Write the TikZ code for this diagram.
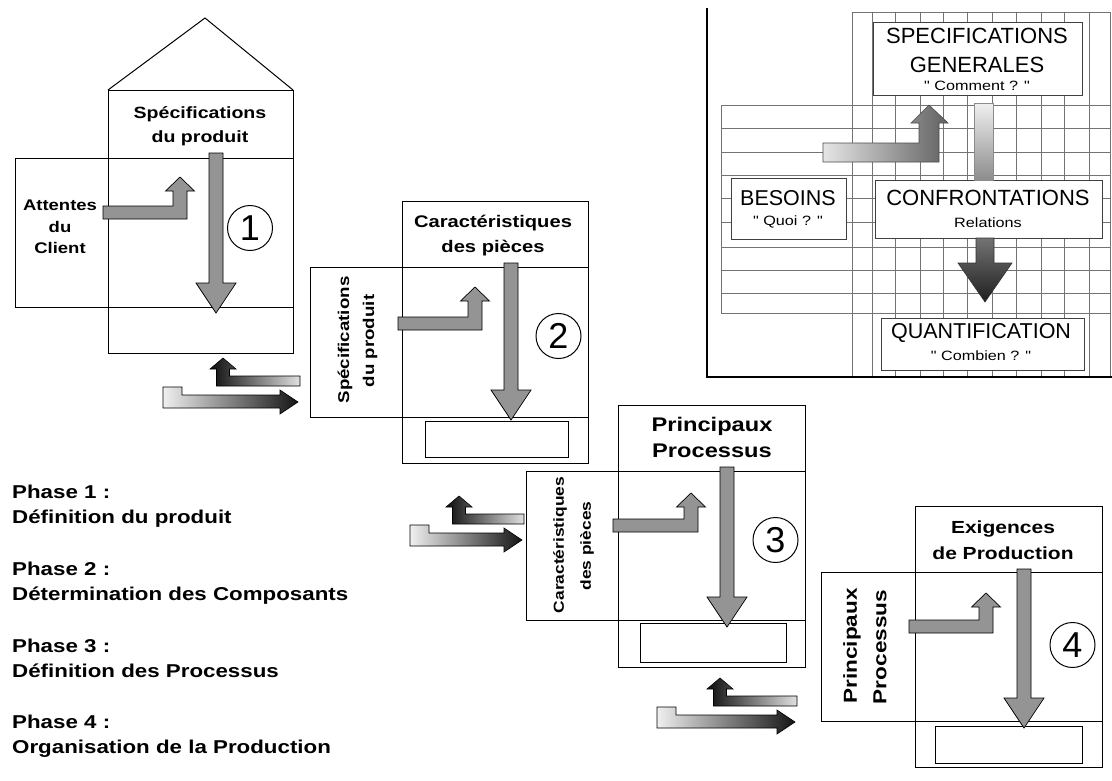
\documentclass[tikz,border=0pt]{standalone}
\usepackage{fontspec}
\setmainfont{Liberation Sans}
\newfontfamily\widefont[FakeStretch=1.2]{Liberation Sans}
\newfontfamily\panelfont{Liberation Sans}
\usetikzlibrary{shapes.geometric}

% L-shaped arrow: bar left x, bar top y, stem right x, tip y
\newcommand\elbowarrow[4]{%
  \filldraw[halftone]
    (#1,#2) -- ({#3-14},#2) -- ({#3-14},{#4+14}) -- ({#3-21.5},{#4+14})
    -- ({#3-7},#4) -- ({#3+7.5},{#4+14}) -- (#3,{#4+14})
    -- (#3,{#2+13}) -- (#1,{#2+13}) -- cycle;}

% straight down arrow: centre x, top y, tip y
\newcommand\dropArrow[3]{%
  \filldraw[halftone]
    ({#1-7},#2) -- ({#1+7},#2) -- ({#1+7},{#3-30}) -- ({#1+20},{#3-30})
    -- (#1,#3) -- ({#1-20},{#3-30}) -- ({#1-7},{#3-30}) -- cycle;}

% pair of hand-over arrows: lower tip (X,Y), lower length L, upper tip offset D
\newcommand\handover[4]{%
  \draw[line width=0.6pt, left color=black!6, right color=black!92]
    ({#1-#3},{#2-15}) -- ({#1-#3+19},{#2-15}) -- ({#1-#3+19},{#2-7})
    -- ({#1-18},{#2-7}) -- ({#1-18},{#2-12}) -- (#1,#2) -- ({#1-18},{#2+12})
    -- ({#1-18},{#2+6}) -- ({#1-#3},{#2+6}) -- cycle;
  \draw[line width=0.6pt, left color=black!95, right color=black!12]
    ({#1-#4-6.5},{#2-16}) -- ({#1-#4-6.5},{#2-33}) -- ({#1-#4-13},{#2-33})
    -- ({#1-#4},{#2-44}) -- ({#1-#4+13},{#2-33}) -- ({#1-#4+6.5},{#2-33})
    -- ({#1-#4+6.5},{#2-26}) -- ({#1+2},{#2-26}) -- ({#1+2},{#2-16}) -- cycle;}

\begin{document}
\begin{tikzpicture}[x=1pt, y=-1pt, line join=miter,
  box/.style={draw=black, line width=1pt},
  halftone/.style={fill=black!42, draw=black, line width=0.7pt},
  txt/.style={inner sep=0pt, anchor=base, font=\widefont\bfseries\fontsize{#1}{#1}\selectfont},
  rtxt/.style={inner sep=0pt, anchor=center, rotate=90, font=\widefont\bfseries\fontsize{#1}{#1}\selectfont},
  phase/.style={inner sep=0pt, anchor=base west, font=\widefont\bfseries\fontsize{18.6}{18.6}\selectfont},
  ptxt/.style={inner sep=0pt, anchor=base, font=\panelfont\fontsize{#1}{#1}\selectfont},
  stxt/.style={inner sep=0pt, anchor=base, font=\widefont\fontsize{13.5}{13.5}\selectfont},
  num/.style={circle, draw=black, line width=1pt, minimum size=45pt, inner sep=0pt,
              font=\panelfont\fontsize{36}{36}\selectfont},
  grid/.style={draw=black!55, line width=0.7pt},
  pbox/.style={fill=white, draw=black!75, line width=0.9pt}]

\fill[white] (0,0) rectangle (1112,780);
\useasboundingbox (0,0) rectangle (1112,780);

% ---------- phase 1 : house ----------
\draw[box] (108,90) rectangle (293,353);
\draw[box] (108,90) -- (205,18) -- (293,90);
\draw[box] (15,158) rectangle (293,307);
\elbowarrow{103}{206}{187}{177}
\dropArrow{216}{153}{313}
\node[txt=16.3] (h1a) at (200,118) {Spécifications};
\node[txt=16.3] (h1b) at (200,142) {du produit};
\node[txt=15.4] (c1a) at (60,210) {Attentes};
\node[txt=15.4] (c1b) at (60,232) {du};
\node[txt=15.4] (c1c) at (60,253) {Client};
\node[num] (n1) at (250,228) {1};

\handover{298}{402}{135}{75}

% ---------- phase 2 ----------
\draw[box] (402,201) rectangle (588,463);
\draw[box] (310,267) rectangle (588,417);
\draw[box] (425,421) rectangle (568,457);
\elbowarrow{398}{317}{482}{287}
\dropArrow{511}{263}{420}
\node[txt=16.8] (h2a) at (493,227) {Caractéristiques};
\node[txt=16.8] (h2b) at (493,252) {des pièces};
\node[rtxt=15.6] (r2a) at (345,340) {Spécifications};
\node[rtxt=15.6] (r2b) at (370,341) {du produit};
\node[num] (n2) at (558.5,336) {2};

\handover{522}{540}{112}{63}

% ---------- phase 3 ----------
\draw[box] (618,405) rectangle (805,667);
\draw[box] (526,471) rectangle (805,620);
\draw[box] (640,623) rectangle (786,662);
\elbowarrow{613}{519}{698}{493}
\dropArrow{727}{467}{627}
\node[txt=19.7] (h3a) at (712,431) {Principaux};
\node[txt=19.7] (h3b) at (712,457) {Processus};
\node[rtxt=14.5] (r3a) at (560,545) {Caractéristiques};
\node[rtxt=14.5] (r3b) at (587,546) {des pièces};
\node[num] (n3) at (775.5,540) {3};

\handover{795}{722}{138}{75}

% ---------- phase 4 ----------
\draw[box] (915,506) rectangle (1102,767);
\draw[box] (821,572) rectangle (1102,721);
\draw[box] (935,726) rectangle (1082,763);
\elbowarrow{909}{620}{993}{593}
\dropArrow{1024}{569}{728}
\node[txt=17.5] (h4a) at (1003,533) {Exigences};
\node[txt=17.5] (h4b) at (1003,559) {de Production};
\node[rtxt=18.8] (r4a) at (852,646) {Principaux};
\node[rtxt=18.8] (r4b) at (880,647) {Processus};
\node[num] (n4) at (1072.5,645) {4};

% ---------- phase list ----------
\node[phase] (p1) at (12,498) {Phase 1 :};
\node[phase] (p1t) at (12,523) {Définition du produit};
\node[phase] (p2) at (12,575) {Phase 2 :};
\node[phase] (p2t) at (12,600) {Détermination des Composants};
\node[phase] (p3) at (12,652) {Phase 3 :};
\node[phase] (p3t) at (12,677) {Définition des Processus};
\node[phase] (p4) at (12,728) {Phase 4 :};
\node[phase] (p4t) at (12,753) {Organisation de la Production};

% ---------- matrix panel ----------
\foreach \gx in {852,872,895,920,943,967,992,1016,1041,1064,1089,1110}
  \draw[grid] (\gx,12) -- (\gx,377);
\draw[grid] (852,12) -- (1110,12);
\foreach \gy in {105,128,152,175,198,222,247,270,293,313}
  \draw[grid] (721,\gy) -- (1110,\gy);
\draw[grid] (721,105) -- (721,313);

\draw[line width=1.8pt] (707,8) -- (707,377) -- (1112,377);

\draw[pbox] (873,22) rectangle (1082,95);
\draw[pbox] (731,178) rectangle (846,239);
\draw[pbox] (875,180) rectangle (1102,238);
\draw[pbox] (881,318) rectangle (1084,370);

\draw[draw=black!70, line width=0.6pt, left color=black!10, right color=black!62]
  (823,143) -- (919,143) -- (919,123) -- (911,123) -- (929,105) -- (948,123)
  -- (939,123) -- (939,162) -- (823,162) -- cycle;
\draw[draw=black!45, line width=0.5pt, top color=black!6, bottom color=black!45]
  (974,103) rectangle (993,180);
\draw[draw=black!80, line width=0.6pt, top color=black!55, bottom color=black!88]
  (976,238) -- (994,238) -- (994,263) -- (1012,263) -- (985,302) -- (958,263)
  -- (976,263) -- cycle;

\node[ptxt=22] (sg1) at (977,43) {SPECIFICATIONS};
\node[ptxt=22] (sg2) at (977,72) {GENERALES};
\node[stxt] (sg3) at (977,90) {" Comment ? "};
\node[ptxt=21.5] (be1) at (788,205) {BESOINS};
\node[stxt] (be2) at (788,225) {" Quoi ? "};
\node[ptxt=22] (co1) at (988,205) {CONFRONTATIONS};
\node[stxt] (co2) at (988,227) {Relations};
\node[ptxt=21.5] (qu1) at (981,338) {QUANTIFICATION};
\node[stxt] (qu2) at (981,360) {" Combien ? "};
\end{tikzpicture}
\end{document}
